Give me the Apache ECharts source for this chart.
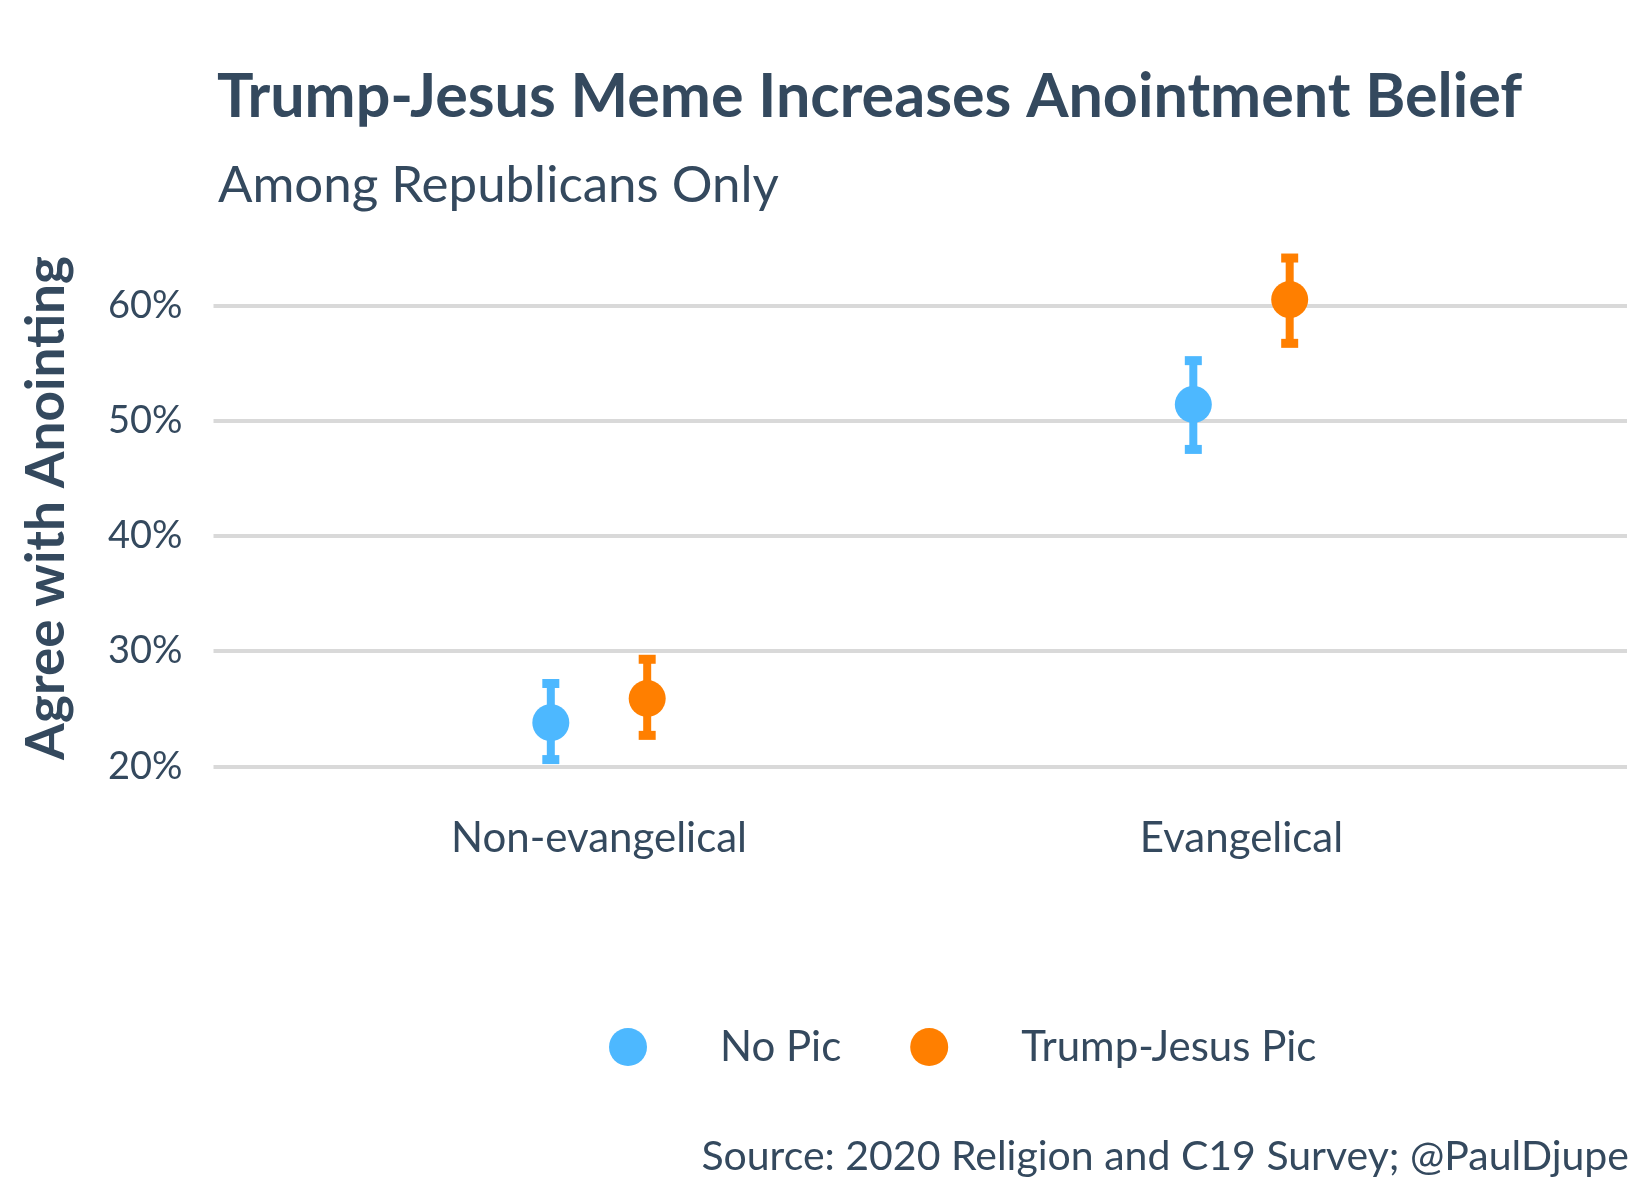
<!DOCTYPE html>
<html>
<head>
<meta charset="utf-8">
<script src="https://cdn.jsdelivr.net/npm/echarts@6/dist/echarts.min.js"></script>
<style>
  html, body { margin: 0; padding: 0; background: #ffffff; }
  #chart { width: 1650px; height: 1200px; }
</style>
</head>
<body>
<div id="chart"></div>
<script>
// ---- data ----
const categories = ['Non-evangelical', 'Evangelical'];
const groups = ['No Pic', 'Trump-Jesus Pic'];
const noPicMean = [23.8, 51.4];
const noPicLow  = [20.6, 47.5];
const noPicHigh = [27.2, 55.2];
const trumpMean = [25.9, 60.5];
const trumpLow  = [22.7, 56.7];
const trumpHigh = [29.3, 64.1];
const yTicks = [20, 30, 40, 50, 60];

const TEXT = '#34495e';
const FONT = 'Lato';
const colors = ['#4db8ff', '#ff7f00'];
const dodge = 0.15;

const seriesData = [
  { mean: noPicMean, low: noPicLow, high: noPicHigh },
  { mean: trumpMean, low: trumpLow, high: trumpHigh }
];

function xPos(ci, gi) {
  return (ci + 1) + (gi === 0 ? -dodge / 2 : dodge / 2);
}

const series = [];
seriesData.forEach((s, gi) => {
  series.push({
    type: 'custom',
    name: groups[gi],
    z: 2,
    clip: false,
    data: categories.map((c, ci) => [xPos(ci, gi), s.low[ci], s.high[ci]]),
    renderItem: function (params, api) {
      const x = api.value(0);
      const lo = api.coord([x, api.value(1)]);
      const hi = api.coord([x, api.value(2)]);
      const stemW = 8, capW = 17, capH = 9;
      const col = colors[gi];
      return {
        type: 'group',
        children: [
          { type: 'rect', shape: { x: lo[0] - stemW / 2, y: hi[1], width: stemW, height: lo[1] - hi[1] }, style: { fill: col } },
          { type: 'rect', shape: { x: hi[0] - capW / 2, y: hi[1] - capH / 2, width: capW, height: capH }, style: { fill: col } },
          { type: 'rect', shape: { x: lo[0] - capW / 2, y: lo[1] - capH / 2, width: capW, height: capH }, style: { fill: col } }
        ]
      };
    }
  });
  series.push({
    type: 'scatter',
    name: groups[gi],
    z: 3,
    clip: false,
    symbol: 'circle',
    symbolSize: 37,
    itemStyle: { color: colors[gi], opacity: 1 },
    data: categories.map((c, ci) => [xPos(ci, gi), s.mean[ci]])
  });
});

const chart = echarts.init(document.getElementById('chart'), null, { renderer: 'canvas' });
chart.setOption({
  backgroundColor: '#ffffff',
  animation: false,
  title: [
    {
      text: 'Trump-Jesus Meme Increases Anointment Belief',
      left: 212, top: 62,
      textStyle: { fontFamily: FONT, fontWeight: 'bold', fontSize: 61, color: TEXT }
    },
    {
      text: 'Among Republicans Only',
      left: 213, top: 155,
      textStyle: { fontFamily: FONT, fontWeight: 'normal', fontSize: 51, color: TEXT }
    },
    {
      text: 'Source: 2020 Religion and C19 Survey; @PaulDjupe',
      right: 16, top: 1131,
      textStyle: { fontFamily: FONT, fontWeight: 'normal', fontSize: 41, color: TEXT }
    }
  ],
  graphic: [
    {
      type: 'text',
      x: 47, y: 508,
      rotation: Math.PI / 2,
      style: {
        text: 'Agree with Anointing',
        fill: TEXT,
        font: 'bold 53px Lato',
        textAlign: 'center',
        textVerticalAlign: 'middle'
      }
    }
  ],
  legend: {
    data: groups.map((g, i) => ({ name: g, icon: 'circle', itemStyle: { color: colors[i] } })),
    left: 604, top: 1021,
    orient: 'horizontal',
    itemWidth: 38, itemHeight: 38,
    itemGap: 69,
    textStyle: { fontFamily: FONT, fontSize: 42, color: TEXT, padding: [0, 0, 0, 68] },
    selectedMode: false
  },
  grid: { left: 213.5, right: 23, top: 305.3, bottom: 433.5, containLabel: false },
  xAxis: {
    type: 'value',
    min: 0.4, max: 2.6,
    axisLine: { show: false },
    axisTick: { show: false },
    splitLine: { show: false },
    axisLabel: {
      customValues: [1, 2],
      formatter: v => categories[Math.round(v) - 1] || '',
      fontFamily: FONT, fontSize: 42, color: TEXT,
      margin: 72, verticalAlign: 'middle'
    }
  },
  yAxis: {
    type: 'value',
    min: 20, max: 60, interval: 10,
    axisLine: { show: false },
    axisTick: { show: false },
    splitLine: { show: true, lineStyle: { color: '#d9d9d9', width: 4 } },
    axisLabel: {
      formatter: v => v + '%',
      fontFamily: FONT, fontSize: 38, color: TEXT, margin: 31
    }
  },
  series: series
});
</script>
</body>
</html>
